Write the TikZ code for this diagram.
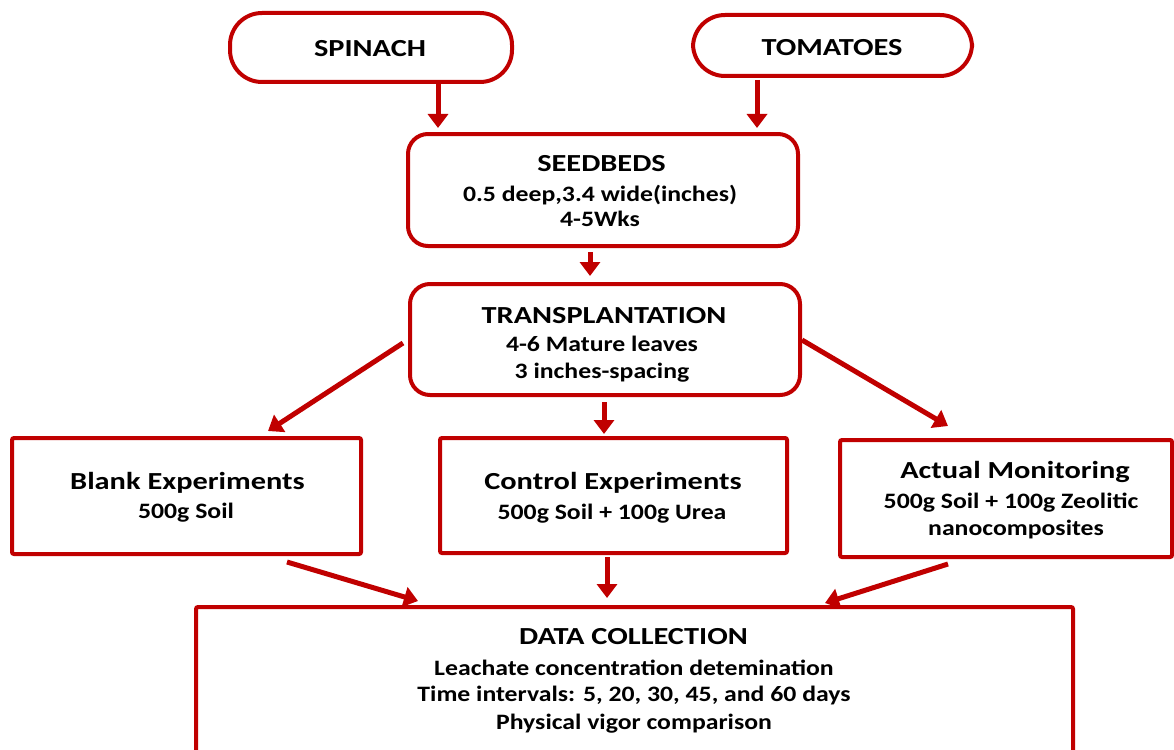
\documentclass[tikz,border=0pt]{standalone}
\usepackage{fontspec}
\setmainfont{Carlito}
\newfontfamily\ttlfont[FakeStretch=1.24]{Carlito}
\newfontfamily\txtfont[FakeStretch=1.17]{Carlito}
\usetikzlibrary{arrows.meta,calc}
\definecolor{dred}{RGB}{192,0,0}
\tikzset{
  box/.style={draw=dred, line width=4pt, fill=white, inner sep=0pt},
  rbox/.style={box, rounded corners=20pt},
  pill/.style={box, rounded corners=32pt},
  ttl/.style={anchor=base, inner sep=0pt, font=\ttlfont\fontsize{24.5}{28}\selectfont\bfseries},
  txt/.style={anchor=base, inner sep=0pt, font=\txtfont\fontsize{22}{26}\selectfont\bfseries},
  arr/.style={draw=dred, line width=5pt, -{Triangle[width=20pt,length=14pt]}},
}
\begin{document}
\begin{tikzpicture}[x=1pt,y=-1pt]
\useasboundingbox (0,0) rectangle (1174,749);
% boxes
\node[pill, minimum width=282pt, minimum height=69pt] (spinach) at (371,47.5) {};
\node[pill, minimum width=279pt, minimum height=61pt] (tomatoes) at (832.5,45.5) {};
\node[rbox, minimum width=390pt, minimum height=112pt] (seed) at (603,190) {};
\node[rbox, minimum width=390pt, minimum height=111pt] (trans) at (605,339.5) {};
\node[box, rounded corners=2pt, minimum width=349pt, minimum height=116pt] (blank) at (186.5,496) {};
\node[box, rounded corners=2pt, minimum width=347pt, minimum height=115pt] (control) at (613.5,495.5) {};
\node[box, rounded corners=2pt, minimum width=332pt, minimum height=117pt] (actual) at (1006,498.5) {};
\node[box, rounded corners=2pt, minimum width=877pt, minimum height=153pt] (data) at (634.5,683.5) {};
% texts
\node[ttl] (tspin) at (370,56.7) {SPINACH};
\node[ttl] (ttom) at (832,55.5) {TOMATOES};
\node[ttl] (tseed) at (601.5,171.7) {SEEDBEDS};
\node[txt] (tseed1) at (600,201.7) {0.5 deep,3.4 wide(inches)};
\node[txt] (tseed2) at (600,226.7) {4-5Wks};
\node[ttl] (ttrans) at (604,323.3) {TRANSPLANTATION};
\node[txt] (ttrans1) at (602,351.7) {4-6 Mature leaves};
\begin{scope}
\clip (410,284) rectangle (800,381);
\node[txt] (ttrans2) at (602,378.3) {3 inches-spacing};
\end{scope}
\node[ttl] (tblank) at (187.5,489.3) {Blank Experiments};
\node[txt] (tblank1) at (186,518.3) {500g Soil};
\node[ttl] (tcontrol) at (613,489.3) {Control Experiments};
\node[txt] (tcontrol1) at (612,519.3) {500g Soil + 100g Urea};
\node[ttl] (tactual) at (1015,478.3) {Actual Monitoring};
\node[txt] (tactual1) at (1011,508.3) {500g Soil + 100g Zeolitic};
\node[txt] (tactual2) at (1016,535) {nanocomposites};
\node[ttl] (tdata) at (633.5,644) {DATA COLLECTION};
\node[txt] (tdata1) at (634,675) {Leachate concentration detemination};
\node[txt] (tdata2) at (634,701.7) {Time intervals: 5, 20, 30, 45, and 60 days};
\node[txt] (tdata3) at (634,729.3) {Physical vigor comparison};
% arrows
\draw[arr] ($(spinach.south)+(67,0)$) -- ($(seed.north)+(-165,-4)$);
\draw[arr] ($(tomatoes.south)+(-75.5,2)$) -- ($(seed.north)+(154,-4)$);
\draw[arr] ($(seed.south)+(-13,4)$) -- ($(trans.north)+(-15,-6)$);
\draw[arr] ($(trans.west)+(-5,3.5)$) -- ($(blank.north)+(81.5,-5)$);
\draw[arr] ($(trans.south)+(-1,5)$) -- ($(control.north)+(-9.5,-2)$);
\draw[arr] ($(trans.east)+(0,0.5)$) -- ($(actual.north)+(-58,-12)$);
\draw[arr] ($(blank.south)+(100.5,6)$) -- ($(data.north)+(-216.5,-4)$);
\draw[arr] ($(control.south)+(-6.5,2)$) -- ($(data.north)+(-27.5,-7)$);
\draw[arr] ($(actual.south)+(-58,5)$) -- ($(data.north)+(190.5,-2)$);
\end{tikzpicture}
\end{document}
